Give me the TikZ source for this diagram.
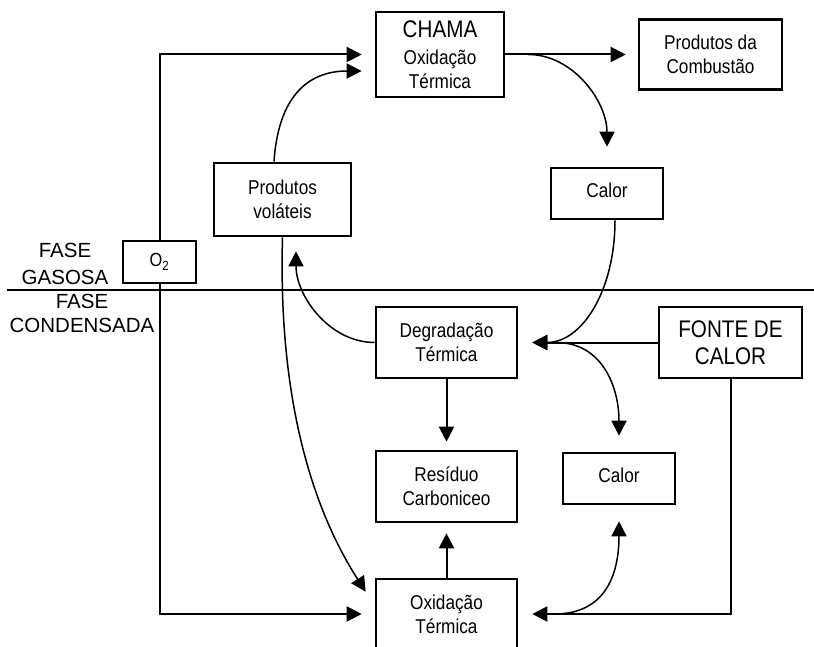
\documentclass[tikz,border=0pt]{standalone}
\usepackage{fontspec}
\setmainfont{Liberation Sans}
\newfontfamily\nrw{Liberation Sans}[FakeStretch=0.86]
\usetikzlibrary{arrows.meta}
\begin{document}
\begin{tikzpicture}[x=1pt,y=-1pt,
  box/.style={draw, line width=2.6pt, inner sep=0pt, align=center, font=\nrw\fontsize{20}{24}\selectfont},
  big/.style={font=\nrw\fontsize{24}{27}\selectfont},
  phase/.style={inner sep=0pt, align=center},
  arr/.style={line width=2pt, -{Triangle[length=15pt,width=15pt]}},
  carr/.style={line width=1.5pt, -{Triangle[length=15pt,width=15pt]}}]
\useasboundingbox (0,0) rectangle (814,647);
\clip (0,0) rectangle (814,647);

% boxes
\node[box, minimum width=128pt, minimum height=85pt] (chama) at (440,54.5)
  {\raisebox{2pt}{\fontsize{24}{27}\selectfont CHAMA}\\[1pt]Oxidação\\Térmica};
\node[box, minimum width=143pt, minimum height=70pt] (pc) at (710.5,54.5) {Produtos da\\Combustão};
\node[box, minimum width=112pt, minimum height=51pt] (calt) at (607,193.5) {\raisebox{6.5pt}{Calor}};
\node[box, minimum width=137pt, minimum height=73pt] (pv) at (282.5,199.5) {Produtos\\voláteis};
\node[box, minimum width=73pt, minimum height=42pt, font=\nrw\fontsize{19}{22}\selectfont] (o2) at (159.5,262) {O\textsubscript{2}};
\node[box, minimum width=141pt, minimum height=71pt] (deg) at (446.5,342.5) {Degradação\\Térmica};
\node[box, big, minimum width=143pt, minimum height=71pt] (fonte) at (730.5,342.5) {FONTE DE\\CALOR};
\node[box, minimum width=141pt, minimum height=71pt] (res) at (446.5,486.5) {Resíduo\\Carboniceo};
\node[box, minimum width=112pt, minimum height=51pt] (calb) at (619,478.5) {\raisebox{7pt}{Calor}};
\node[box, minimum width=141pt, minimum height=70pt] (oxb) at (446.5,614) {Oxidação\\Térmica};

% phase labels and divider
\node[phase, font=\fontsize{20.5}{27}\selectfont] (gas) at (65,264) {FASE\\GASOSA};
\node[phase, font=\fontsize{20.5}{24}\selectfont] (cond) at (82,313) {FASE\\CONDENSADA};
\draw[line width=2pt] (7,290) -- (814,290);

% connectors
\draw[arr] (o2.north) |- ([xshift=-13pt]chama.west);
\draw[arr] (o2.south) |- ([xshift=-13pt]oxb.west);
\draw[carr] ([xshift=-8.5pt]pv.north) .. controls +(5,-75) and +(-45,0) .. ([xshift=-13pt,yshift=-16.5pt]chama.west);
\draw[arr, shorten >=12pt] (chama.east) -- (pc.west);
\draw[carr] ([xshift=23pt]chama.east) .. controls +(45,0) and +(0,-45) .. ([yshift=20pt]calt.north);
\draw[carr] ([xshift=8pt]calt.south) .. controls +(0,70) and +(50,0) .. ([xshift=14pt]deg.east);
\draw[arr, shorten >=14pt] (fonte.west) -- (deg.east);
\draw[carr] ([xshift=38pt]deg.east) .. controls +(45,0) and +(0,-50) .. ([yshift=16pt]calb.north);
\draw[arr, shorten >=8pt] (deg.south) -- (res.north);
\draw[arr, shorten >=10pt] (oxb.north) -- (res.south);
\draw[arr] (fonte.south) |- ([xshift=14pt]oxb.east);
\draw[carr] ([xshift=36pt]oxb.east) .. controls +(50,0) and +(0,55) .. ([yshift=-16pt]calb.south);
\draw[carr] (deg.west) .. controls +(-45,0) and +(0,45) .. ([xshift=13.5pt,yshift=-14pt]pv.south);
\draw[carr] (pv.south) .. controls +(-5,180) and +(-45,-70) .. ([xshift=-9pt,yshift=-14pt]oxb.north west);
\end{tikzpicture}
\end{document}
